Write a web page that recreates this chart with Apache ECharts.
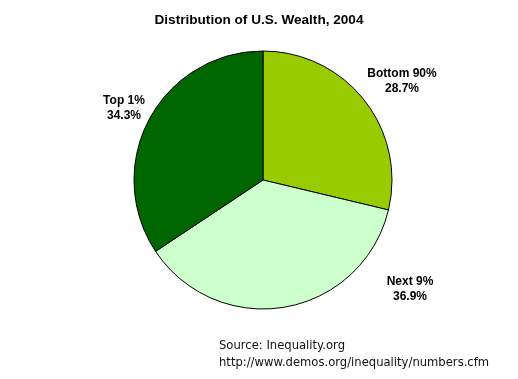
<!DOCTYPE html>
<html><head><meta charset="utf-8">
<script src="https://cdn.jsdelivr.net/npm/echarts@6/dist/echarts.min.js"></script>
<style>html,body{margin:0;padding:0;background:#fff}#c{width:518px;height:379px}</style>
</head><body><div id="c"></div>
<script>
const categories = ['Bottom 90%', 'Next 9%', 'Top 1%'];
const values = [28.7, 36.9, 34.3];
const colors = ['#99CC00', '#CCFFCC', '#006600'];
const labelSpots = [[402, 81], [410, 289], [124, 108]];

const chart = echarts.init(document.getElementById('c'), null, {renderer: 'canvas'});
chart.setOption({
  backgroundColor: '#ffffff',
  animation: false,
  title: [{
    text: 'Distribution of U.S. Wealth, 2004',
    left: 'center', top: 8,
    textStyle: {fontFamily: "'Liberation Sans', Arial", fontWeight: 'bold', fontSize: 13.6, color: '#000'}
  }, {
    text: 'Source: Inequality.org\nhttp://www.demos.org/inequality/numbers.cfm',
    left: 214, top: 332,
    textStyle: {fontFamily: "'DejaVu Sans'", fontWeight: 'normal', fontSize: 11.6, color: '#111', lineHeight: 17}
  }],
  series: [{
    type: 'pie',
    center: [263, 180],
    radius: 129,
    startAngle: 90,
    clockwise: true,
    data: categories.map((n, i) => ({name: n, value: values[i], itemStyle: {color: colors[i]}})),
    itemStyle: {borderColor: '#000', borderWidth: 1},
    label: {
      show: true, position: 'outside',
      formatter: p => p.name + '\n' + p.value.toFixed(1) + '%',
      fontFamily: "'Liberation Sans', Arial", fontWeight: 'bold', fontSize: 12, color: '#000',
      align: 'center', lineHeight: 15
    },
    labelLine: {show: false},
    labelLayout: p => ({x: labelSpots[p.dataIndex][0], y: labelSpots[p.dataIndex][1], align: 'center', verticalAlign: 'middle'}),
    emphasis: {disabled: true}
  }]
});
</script></body></html>
